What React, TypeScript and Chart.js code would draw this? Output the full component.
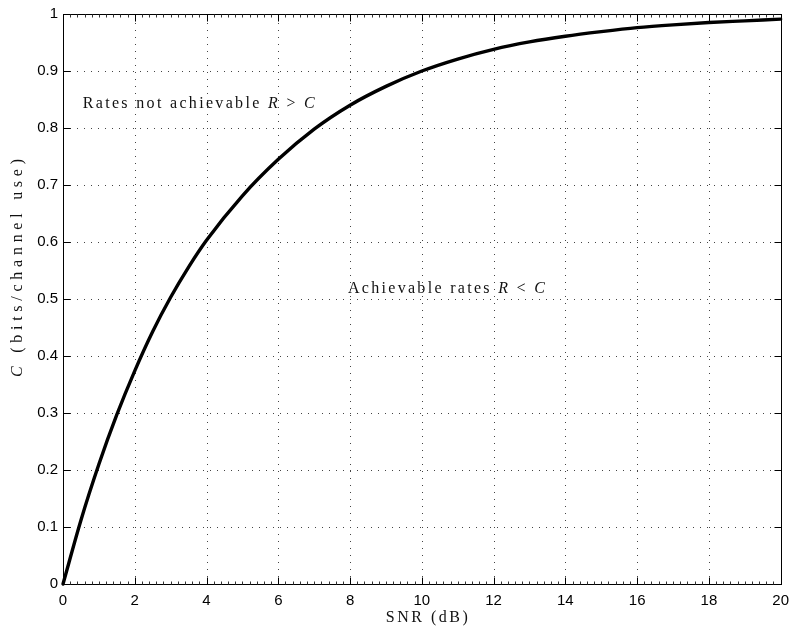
import { useEffect, useRef } from 'react';
import { Chart, registerables } from 'chart.js';

Chart.register(...registerables);

// Values
const snrDb = [0, 0.5, 1, 1.5, 2, 2.5, 3, 3.5, 4, 5, 6, 7, 8, 9, 10, 11, 12, 13, 14, 15, 16, 17, 18, 19, 20];
const capacity = [0, 0.112, 0.21, 0.297, 0.374, 0.443, 0.503, 0.556, 0.603, 0.681, 0.745, 0.798, 0.84, 0.873, 0.9, 0.921, 0.938, 0.951, 0.961, 0.969, 0.976, 0.981, 0.985, 0.988, 0.991];

const xTicks = [0, 2, 4, 6, 8, 10, 12, 14, 16, 18, 20];
const yTicks = [0, 0.1, 0.2, 0.3, 0.4, 0.5, 0.6, 0.7, 0.8, 0.9, 1];
const yTickLabels = ['0', '0.1', '0.2', '0.3', '0.4', '0.5', '0.6', '0.7', '0.8', '0.9', '1'];

const xTitle = [{ t: 'SNR (dB)', it: false }];
const yTitle = [{ t: 'C', it: true }, { t: ' (bits/channel use)', it: false }];
const noteAbove = [{ t: 'Rates not achievable ', it: false }, { t: 'R', it: true }, { t: ' > ', it: false }, { t: 'C', it: true }];
const noteBelow = [{ t: 'Achievable rates ', it: false }, { t: 'R', it: true }, { t: ' < ', it: false }, { t: 'C', it: true }];
// annotation anchors in data units (left edge, vertical centre)
const noteAboveAt = { x: 0.55, y: 0.842 };
const noteBelowAt = { x: 7.94, y: 0.518 };

const SERIF = '"Liberation Serif", "DejaVu Serif", serif';
const SANS = '"Liberation Sans", Arial, sans-serif';

type Piece = { t: string; it: boolean };

function drawRich(ctx: CanvasRenderingContext2D, pieces: Piece[], x: number, y: number, target: number, size: number) {
  const chars: { c: string; it: boolean }[] = [];
  pieces.forEach((p) => p.t.split('').forEach((c) => chars.push({ c, it: p.it })));
  const font = (it: boolean) => `${it ? 'italic ' : ''}${size}px ${SERIF}`;
  let w0 = 0;
  const widths = chars.map((ch) => {
    ctx.font = font(ch.it);
    const w = ctx.measureText(ch.c).width;
    w0 += w;
    return w;
  });
  const sp = chars.length > 1 ? (target - w0) / (chars.length - 1) : 0;
  let cx = x;
  ctx.textBaseline = 'middle';
  ctx.textAlign = 'left';
  chars.forEach((ch, i) => {
    ctx.font = font(ch.it);
    ctx.fillText(ch.c, cx, y);
    cx += widths[i] + sp;
  });
}

const framePlugin = {
  id: 'matlabFrame',
  beforeDatasetsDraw(chart: any) {
    const { ctx, chartArea: a, scales } = chart;
    const xs = scales.x;
    const ys = scales.y;
    ctx.save();
    ctx.strokeStyle = '#444';
    ctx.lineWidth = 1;
    ctx.setLineDash([1, 6]);
    xTicks.slice(1, -1).forEach((v) => {
      const px = Math.round(xs.getPixelForValue(v)) + 0.5;
      ctx.beginPath();
      ctx.moveTo(px, a.bottom);
      ctx.lineTo(px, a.top);
      ctx.stroke();
    });
    yTicks.slice(1, -1).forEach((v) => {
      const py = Math.round(ys.getPixelForValue(v)) + 0.5;
      ctx.beginPath();
      ctx.moveTo(a.left, py);
      ctx.lineTo(a.right, py);
      ctx.stroke();
    });
    ctx.restore();
  },
  afterDatasetsDraw(chart: any) {
    const { ctx, chartArea: a, scales } = chart;
    const xs = scales.x;
    const ys = scales.y;
    ctx.save();
    ctx.strokeStyle = '#000';
    ctx.lineWidth = 1;
    ctx.setLineDash([]);
    const L = Math.round(a.left) + 0.5;
    const R = Math.round(a.right) + 0.5;
    const T = Math.round(a.top) + 0.5;
    const B = Math.round(a.bottom) + 0.5;
    ctx.strokeRect(L, T, R - L, B - T);
    // minor ticks on x
    ctx.beginPath();
    for (let i = 1; i < 100; i++) {
      const v = i * 0.2;
      if (i % 10 === 0) continue;
      const px = Math.round(xs.getPixelForValue(v)) + 0.5;
      ctx.moveTo(px, B);
      ctx.lineTo(px, B - 3);
      ctx.moveTo(px, T);
      ctx.lineTo(px, T + 3);
    }
    ctx.strokeStyle = '#333';
    ctx.stroke();
    // major ticks inward
    ctx.strokeStyle = '#000';
    ctx.beginPath();
    xTicks.slice(1, -1).forEach((v) => {
      const px = Math.round(xs.getPixelForValue(v)) + 0.5;
      ctx.moveTo(px, B);
      ctx.lineTo(px, B - 7);
      ctx.moveTo(px, T);
      ctx.lineTo(px, T + 7);
    });
    yTicks.slice(1, -1).forEach((v) => {
      const py = Math.round(ys.getPixelForValue(v)) + 0.5;
      ctx.moveTo(L, py);
      ctx.lineTo(L + 7, py);
      ctx.moveTo(R, py);
      ctx.lineTo(R - 7, py);
    });
    ctx.stroke();

    ctx.fillStyle = '#111';
    // annotations
    drawRich(ctx, noteAbove, xs.getPixelForValue(noteAboveAt.x), ys.getPixelForValue(noteAboveAt.y), 232, 16);
    drawRich(ctx, noteBelow, xs.getPixelForValue(noteBelowAt.x), ys.getPixelForValue(noteBelowAt.y), 197, 16);
    // x title
    const xw = 82;
    drawRich(ctx, xTitle, (a.left + a.right) / 2 + 5 - xw / 2, a.bottom + 34, xw, 16);
    // y title (rotated)
    ctx.save();
    ctx.translate(18, 268);
    ctx.rotate(-Math.PI / 2);
    const yw = 218;
    drawRich(ctx, yTitle, -yw / 2, 0, yw, 16);
    ctx.restore();
    ctx.restore();
  },
};

export default function App() {
  const ref = useRef<HTMLCanvasElement | null>(null);
  useEffect(() => {
    document.body.style.margin = '0';
    document.body.style.background = '#fff';
    const canvas = ref.current;
    if (!canvas) return;
    const chart = new Chart(canvas, {
      type: 'line',
      data: {
        datasets: [
          {
            data: snrDb.map((x, i) => ({ x, y: capacity[i] })),
            borderColor: '#000',
            borderWidth: 3.4,
            pointRadius: 0,
            fill: false,
            cubicInterpolationMode: 'monotone',
            borderCapStyle: 'round',
            borderJoinStyle: 'round',
            clip: 3,
          },
        ],
      },
      options: {
        responsive: false,
        animation: false,
        devicePixelRatio: 1,
        layout: { padding: { top: 13, right: 11, left: 0, bottom: 0 } },
        plugins: { legend: { display: false }, tooltip: { enabled: false }, title: { display: false } },
        scales: {
          x: {
            type: 'linear',
            min: 0,
            max: 20,
            afterBuildTicks: (s: any) => {
              s.ticks = xTicks.map((v) => ({ value: v }));
            },
            afterFit: (s: any) => {
              s.height = 47;
            },
            ticks: {
              font: { family: SANS, size: 15 },
              color: '#000',
              padding: 8,
              maxRotation: 0,
              autoSkip: false,
              callback: (v: any) => String(v),
            },
            grid: { display: false, drawTicks: false },
            border: { display: false },
          },
          y: {
            type: 'linear',
            min: 0,
            max: 1,
            afterBuildTicks: (s: any) => {
              s.ticks = yTicks.map((v) => ({ value: v }));
            },
            afterFit: (s: any) => {
              s.width = 63;
            },
            ticks: {
              font: { family: SANS, size: 15 },
              color: '#000',
              padding: 5,
              autoSkip: false,
              callback: (v: any, i: number) => yTickLabels[i],
            },
            grid: { display: false, drawTicks: false },
            border: { display: false },
          },
        },
      },
      plugins: [framePlugin],
    } as any);
    return () => chart.destroy();
  }, []);
  return <canvas ref={ref} width={797} height={631} style={{ display: 'block' }} />;
}
